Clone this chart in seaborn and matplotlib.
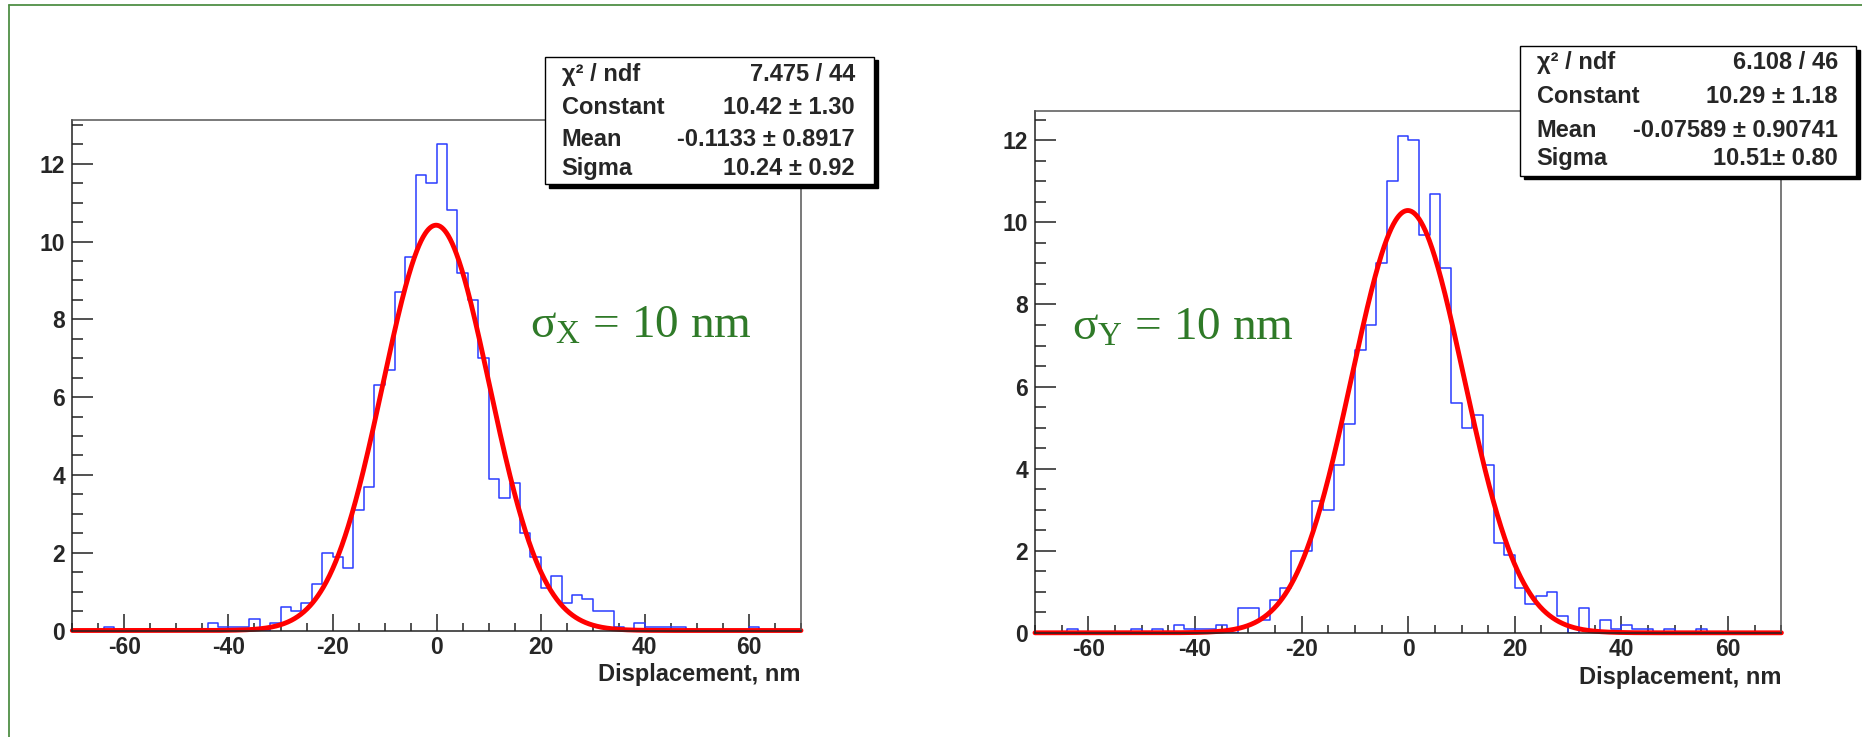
import numpy as np
import pandas as pd
import matplotlib
matplotlib.use("Agg")
import matplotlib.pyplot as plt
import seaborn as sns
from matplotlib.ticker import MultipleLocator
from matplotlib.patches import Rectangle
from matplotlib.lines import Line2D

# ---------------- data ----------------
bin_lo = -70
bin_hi = 70
bin_width = 2

# bin contents, lower edges -70, -68, ..., 68
counts_x = [0, 0, 0, 0.1, 0, 0, 0, 0, 0, 0,
            0, 0, 0, 0.2, 0.1, 0.1, 0.1, 0.3, 0, 0.2,
            0.6, 0.5, 0.7, 1.2, 2.0, 1.9, 1.6, 3.1, 3.7, 6.3,
            6.7, 8.7, 9.6, 11.7, 11.5, 12.5, 10.8, 9.2, 8.5, 7.0,
            3.9, 3.4, 3.8, 2.5, 1.9, 1.1, 1.4, 0.7, 0.9, 0.8,
            0.5, 0.5, 0.1, 0, 0.2, 0.1, 0.1, 0.1, 0.1, 0,
            0, 0, 0, 0, 0, 0.1, 0, 0, 0, 0]

counts_y = [0, 0, 0, 0.1, 0, 0, 0, 0, 0, 0.1,
            0, 0.1, 0, 0.2, 0.1, 0.1, 0.1, 0.2, 0, 0.6,
            0.6, 0.3, 0.8, 1.1, 2.0, 2.0, 3.2, 3.0, 4.1, 5.1,
            6.9, 7.5, 9.0, 11.0, 12.1, 12.0, 9.7, 10.7, 8.9, 5.6,
            5.0, 5.3, 4.1, 2.2, 1.9, 1.1, 0.7, 0.9, 1.0, 0.4,
            0, 0.6, 0, 0.3, 0.1, 0.2, 0.1, 0.1, 0, 0.1,
            0, 0, 0.1, 0, 0, 0, 0, 0, 0, 0]

fit_x = {"constant": 10.42, "mean": -0.1133, "sigma": 10.24}
fit_y = {"constant": 10.29, "mean": -0.07589, "sigma": 10.51}

stats_x_names = ["χ² / ndf", "Constant", "Mean", "Sigma"]
stats_x_values = ["7.475 / 44", "10.42 ± 1.30", "-0.1133 ± 0.8917", "10.24 ± 0.92"]
stats_y_names = ["χ² / ndf", "Constant", "Mean", "Sigma"]
stats_y_values = ["6.108 / 46", "10.29 ± 1.18", "-0.07589 ± 0.90741", "10.51± 0.80"]

x_ticks = [-60, -40, -20, 0, 20, 40, 60]
y_ticks = [0, 2, 4, 6, 8, 10, 12]
x_label = "Displacement, nm"
label_x = "σ$_{\\mathrm{X}}$ = 10 nm"
label_y = "σ$_{\\mathrm{Y}}$ = 10 nm"

# ---------------- style ----------------
W, H = 1862, 737
sns.set_theme(style="ticks")
plt.rcParams["font.family"] = ["Liberation Sans", "DejaVu Sans"]
plt.rcParams["font.weight"] = "bold"
plt.rcParams["axes.unicode_minus"] = False
plt.rcParams["mathtext.fontset"] = "custom"
plt.rcParams["mathtext.rm"] = "Liberation Serif:weight=normal"
plt.rcParams["mathtext.it"] = "Liberation Serif:italic:weight=normal"

BLUE = "#2a3cff"
RED = "#ff0000"
GREEN_TXT = "#2f7a28"
GREEN_FRAME = "#4f8f45"

fig = plt.figure(figsize=(W / 100, H / 100), dpi=100)
fig.patch.set_facecolor("white")


def axes_rect(x0, y0, x1, y1):
    return [x0 / W, 1 - y1 / H, (x1 - x0) / W, (y1 - y0) / H]


def draw_panel(ax, counts, fit):
    centers = np.arange(bin_lo, bin_hi, bin_width) + bin_width / 2
    df = pd.DataFrame({"x": centers, "w": np.asarray(counts, dtype=float)})
    sns.histplot(data=df, x="x", weights="w", binwidth=bin_width,
                 binrange=(bin_lo, bin_hi), element="step",
                 fill=False, color=BLUE, linewidth=1.1, ax=ax)
    xf = np.linspace(bin_lo, bin_hi, 1401)
    yf = fit["constant"] * np.exp(-0.5 * ((xf - fit["mean"]) / fit["sigma"]) ** 2)
    sns.lineplot(x=xf, y=yf, color=RED, linewidth=3.5, ax=ax,
                 estimator=None, sort=False)
    ax.lines[-1].set_clip_on(False)
    ax.set_xlim(bin_lo, bin_hi)
    ax.set_ylim(0, 1.05 * max(counts))
    ax.set_ylabel("")
    ax.set_xticks(x_ticks)
    ax.set_yticks(y_ticks)
    ax.xaxis.set_minor_locator(MultipleLocator(5))
    ax.yaxis.set_minor_locator(MultipleLocator(0.5))
    ax.tick_params(which="both", direction="in", top=False, right=False,
                   width=1.1, color="#222222", labelsize=16.5)
    ax.tick_params(axis="y", which="major", length=15, pad=5)
    ax.tick_params(axis="y", which="minor", length=7.7)
    ax.tick_params(axis="x", which="major", length=12, pad=4)
    ax.tick_params(axis="x", which="minor", length=5.8)
    for lab in ax.get_xticklabels() + ax.get_yticklabels():
        lab.set_fontweight("bold")
    for s in ["left", "bottom"]:
        ax.spines[s].set_color("#222222")
        ax.spines[s].set_linewidth(1.1)
    for s in ["top", "right"]:
        ax.spines[s].set_visible(True)
        ax.spines[s].set_color("#555555")
        ax.spines[s].set_linewidth(1.1)
    ax.set_xlabel(x_label, loc="right", fontsize=17, fontweight="bold",
                  labelpad=3)
    ax.set_facecolor("white")


def stat_box(x0, y0, x1, y1, names, values, tx0, tx1, baselines):
    sh = 3.5
    fig.add_artist(Rectangle(((x0 + sh) / W, 1 - (y1 + sh) / H),
                             (x1 - x0) / W, (y1 - y0) / H,
                             transform=fig.transFigure, facecolor="black",
                             edgecolor="black", zorder=5))
    fig.add_artist(Rectangle((x0 / W, 1 - y1 / H), (x1 - x0) / W, (y1 - y0) / H,
                             transform=fig.transFigure, facecolor="white",
                             edgecolor="black", linewidth=1.0, zorder=6))
    for name, val, b in zip(names, values, baselines):
        fig.text(tx0 / W, 1 - b / H, name, ha="left", va="baseline",
                 fontsize=17, fontweight="bold", zorder=7)
        fig.text(tx1 / W, 1 - b / H, val, ha="right", va="baseline",
                 fontsize=17, fontweight="bold", zorder=7)


ax1 = fig.add_axes(axes_rect(72.3, 120, 801, 630.5))
draw_panel(ax1, counts_x, fit_x)
ax2 = fig.add_axes(axes_rect(1035, 111.4, 1781.4, 632.8))
draw_panel(ax2, counts_y, fit_y)

stat_box(545, 56.7, 874, 184, stats_x_names, stats_x_values, 561.7, 855,
         [80.7, 114, 146, 175])
stat_box(1520, 46, 1856, 175.7, stats_y_names, stats_y_values, 1536.7, 1838,
         [69.3, 103.3, 136.7, 165])

fig.text(530 / W, 1 - 338 / H, label_x, ha="left", va="baseline",
         fontsize=34, color=GREEN_TXT, family="Liberation Serif",
         fontweight="normal", zorder=8)
fig.text(1071.7 / W, 1 - 340 / H, label_y, ha="left", va="baseline",
         fontsize=34, color=GREEN_TXT, family="Liberation Serif",
         fontweight="normal", zorder=8)

# outer green frame (left and top edges)
fig.add_artist(Line2D([9 / W, 9 / W], [0, 1 - 5 / H], transform=fig.transFigure,
                      color=GREEN_FRAME, linewidth=1.3, zorder=9))
fig.add_artist(Line2D([9 / W, 1], [1 - 5 / H, 1 - 5 / H], transform=fig.transFigure,
                      color=GREEN_FRAME, linewidth=1.3, zorder=9))

fig.savefig("out.png", dpi=100, facecolor="white")
